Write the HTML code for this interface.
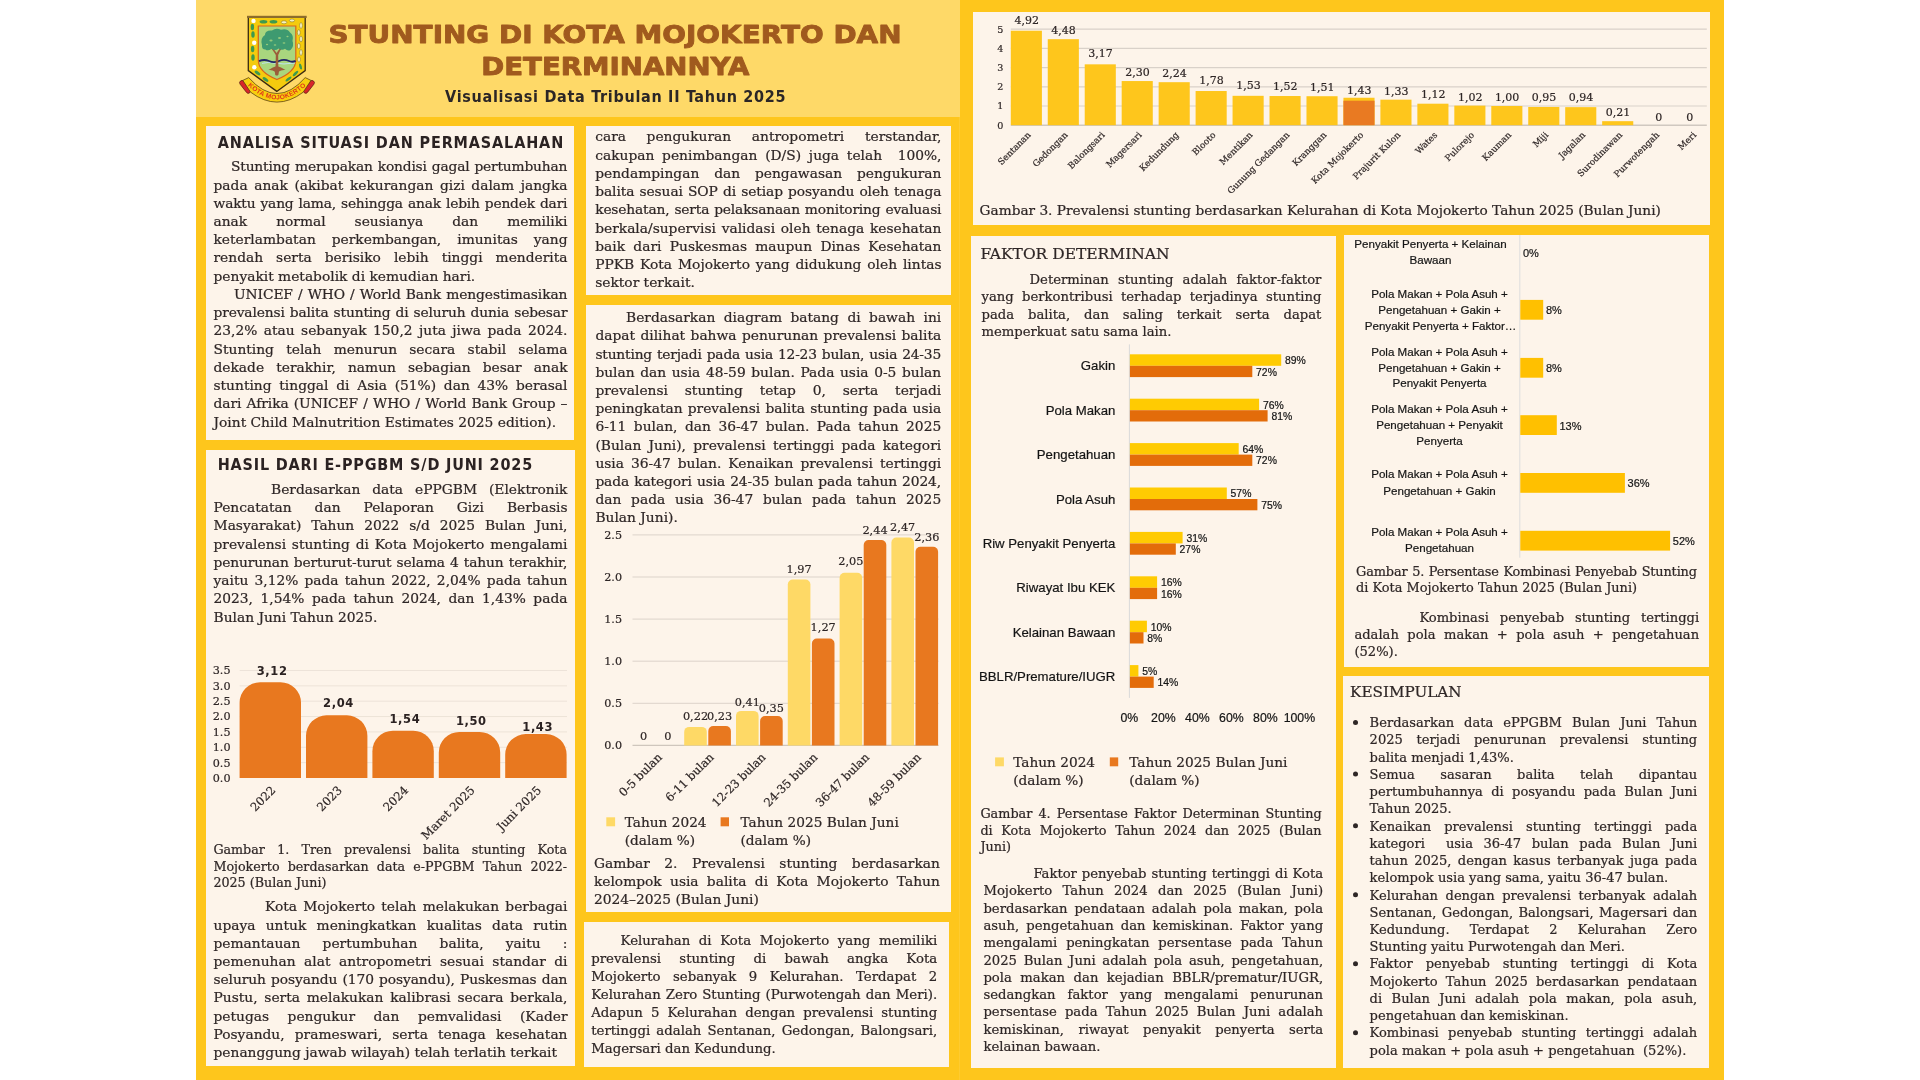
<!DOCTYPE html>
<html lang="id"><head><meta charset="utf-8"><title>Stunting di Kota Mojokerto dan Determinannya</title>
<style>
html,body{margin:0;padding:0;background:#fff;}
body{width:1920px;height:1080px;position:relative;overflow:hidden;}
.poster{position:absolute;left:196px;top:0;width:1528px;height:1080px;background:#FEC61C;}
.hdr{position:absolute;left:196px;top:0;width:764px;height:116.6px;background:#FED968;}
.p{position:absolute;background:#FDF4EA;}
.t{position:absolute;white-space:pre;margin:0;-webkit-text-stroke:0.22px currentColor;}
svg{position:absolute;left:0;top:0;}
.wrap{position:absolute;left:0;top:0;width:1920px;height:1080px;will-change:transform;}
</style></head>
<body>
<div class="poster"></div>
<div class="hdr"></div>
<div style="position:absolute;left:959px;top:117px;width:1px;height:963px;background:#FECB30;"></div>
<div class="p" style="left:206px;top:126px;width:368px;height:314px"></div><div class="p" style="left:206px;top:450px;width:369px;height:616px"></div><div class="p" style="left:586px;top:126px;width:365px;height:169px"></div><div class="p" style="left:586px;top:305px;width:365px;height:607px"></div><div class="p" style="left:584px;top:922px;width:365px;height:145px"></div><div class="p" style="left:973px;top:12px;width:737px;height:213px"></div><div class="p" style="left:971px;top:236px;width:365px;height:832px"></div><div class="p" style="left:1344px;top:235px;width:365px;height:432px"></div><div class="p" style="left:1343px;top:676px;width:366px;height:392px"></div>
<div class="wrap">
<svg width="1920" height="1080" viewBox="0 0 1920 1080">

<g id="logo">
 <path d="M248.3,17.2 L305.2,17.2 L305.2,70.6 L276.8,91.4 L248.3,70.6 Z" fill="#F4CB0E" stroke="#3B2A12" stroke-width="1.3"/>
 <rect x="247" y="15.8" width="59.7" height="2.2" fill="#8C6C2C"/>
 <path d="M258.3,26 L295.8,26 L295.8,60 Q295.8,72 276.9,79.5 Q258.3,72 258.3,60 Z" fill="#A9D67E" stroke="#D8641C" stroke-width="1.2"/>
 <path d="M262,63.4 Q268,61.6 275,63.2 Q283,64.8 295,63" fill="none" stroke="#BFE3F0" stroke-width="1"/>
 <path d="M259,61.2 Q264,58.8 269,61 Q274,63.2 279,61 Q284,58.8 289,61 Q292.5,62.5 295.6,60.8" fill="none" stroke="#1F2468" stroke-width="1.9"/>
 <g fill="#9C5C3A">
  <path d="M275.4,75 L275.8,55 Q273.5,51 270.5,47.5 L271.6,46.8 Q274.5,50 276.6,53 Q278.5,50 281.5,46.8 L282.4,47.6 Q279.6,51 278.2,55 L278.4,75 Z"/>
  <path d="M268.5,70 Q273,67.2 276.8,66 Q281,67.2 285.5,70 Q281,69.6 279,71.5 L277.8,75.5 L275.8,75.5 L274.6,71.5 Q272.5,69.6 268.5,70 Z"/>
 </g>
 <g fill="#3E9A70">
  <path d="M262,45 Q260,38 265,35 Q265,30 272,30.5 Q276,27.5 281,29.8 Q287,28 290,32.5 Q294,35 292.5,41 Q294.5,46 290.5,50 Q287.5,51.5 285,48.8 Q282,51 278.5,48.5 Q275,51.5 271.5,48.8 Q268,51.5 265.5,49.5 Q261.5,49.5 262,45 Z"/>
 </g>
 <g fill="#A9D67E" opacity="0.8">
  <ellipse cx="271" cy="40.5" rx="1.6" ry="0.9"/>
  <ellipse cx="279.5" cy="38" rx="1.5" ry="0.9"/>
  <ellipse cx="284" cy="43" rx="1.4" ry="0.8"/>
  <ellipse cx="275" cy="45" rx="1.3" ry="0.8"/>
  <ellipse cx="267" cy="44.5" rx="1.2" ry="0.8"/>
  <ellipse cx="287.5" cy="36.5" rx="1.1" ry="0.7"/>
 </g>
 <g fill="#3E9A4E">
  <ellipse cx="252.4" cy="27" rx="1.7" ry="3.2"/>
  <ellipse cx="253" cy="34.5" rx="1.7" ry="3.2"/>
  <ellipse cx="252.6" cy="49" rx="1.7" ry="3.2"/>
  <ellipse cx="253" cy="57.5" rx="1.7" ry="3.2"/>
  <ellipse cx="263.5" cy="21.8" rx="3.9" ry="1.8"/>
  <ellipse cx="273.5" cy="21.8" rx="3.9" ry="1.8"/>
  <ellipse cx="257.5" cy="73" rx="3.3" ry="1.5" transform="rotate(35 257.5 73)"/>
  <ellipse cx="265.5" cy="79.5" rx="3.3" ry="1.5" transform="rotate(35 265.5 79.5)"/>
  <ellipse cx="288.5" cy="79" rx="3.6" ry="1.3" transform="rotate(-38 288.5 79)"/>
  <ellipse cx="295.5" cy="73.5" rx="3.6" ry="1.3" transform="rotate(-45 295.5 73.5)"/>
  <ellipse cx="300.5" cy="66.5" rx="1.3" ry="3" transform="rotate(-15 300.5 66.5)"/>
 </g>
 <g fill="#FFFFFF">
  <circle cx="253.5" cy="20.9" r="2.2"/>
  <circle cx="254.2" cy="42.7" r="2.2"/>
  <circle cx="254.3" cy="67.2" r="2.2"/>
 </g>
 <g fill="#F6F2C0" stroke="#6E5E18" stroke-width="0.45">
  <ellipse cx="284" cy="22.3" rx="2.8" ry="1.5"/>
  <ellipse cx="292" cy="20.5" rx="2.6" ry="1.4"/>
  <ellipse cx="301" cy="25.5" rx="1.4" ry="2.9"/>
  <ellipse cx="298.8" cy="32.5" rx="1.4" ry="2.8"/>
  <ellipse cx="301" cy="39" rx="1.4" ry="2.9"/>
  <ellipse cx="298.8" cy="46" rx="1.4" ry="2.8"/>
  <ellipse cx="301" cy="52.5" rx="1.4" ry="2.9"/>
  <ellipse cx="299" cy="59.5" rx="1.4" ry="2.6"/>
 </g>
 <rect x="237.6" y="84.6" width="15" height="4.6" rx="2.3" fill="#D8262A" stroke="#4A1A10" stroke-width="0.6" transform="rotate(52 245.1 86.9)"/>
 <rect x="301.4" y="84.6" width="15" height="4.6" rx="2.3" fill="#D8262A" stroke="#4A1A10" stroke-width="0.6" transform="rotate(-52 308.9 86.9)"/>
 <path d="M242.8,80.4 L248.7,77.6 Q277,109.5 305.2,77.6 L311,80.4 L303.2,92.2 Q277,112 250.6,92.2 Z" fill="#F7CF0E" stroke="#4A3010" stroke-width="0.7"/>
 <path id="ribarc" d="M249.2,86.9 Q277,112 304.8,86.9" fill="none"/>
 <text font-family="'Liberation Sans', Arial, sans-serif" font-size="6.6" font-weight="bold" fill="#E0381A" letter-spacing="0.3"><textPath href="#ribarc" startOffset="50%" text-anchor="middle">KOTA MOJOKERTO</textPath></text>
</g>

<text x="615" y="42.6" font-family="'DejaVu Sans', sans-serif" font-size="25.6" font-weight="bold" fill="#A05A1E" stroke="#A05A1E" stroke-width="0.9" stroke-linejoin="round" text-anchor="middle" textLength="573" lengthAdjust="spacingAndGlyphs">STUNTING DI KOTA MOJOKERTO DAN</text><text x="615.3" y="75.4" font-family="'DejaVu Sans', sans-serif" font-size="25.6" font-weight="bold" fill="#A05A1E" stroke="#A05A1E" stroke-width="0.9" stroke-linejoin="round" text-anchor="middle" textLength="268" lengthAdjust="spacingAndGlyphs">DETERMINANNYA</text><line x1="239.70" y1="762.64" x2="567.00" y2="762.64" stroke="#EDE3D8" stroke-width="1"/><line x1="239.70" y1="747.28" x2="567.00" y2="747.28" stroke="#EDE3D8" stroke-width="1"/><line x1="239.70" y1="731.92" x2="567.00" y2="731.92" stroke="#EDE3D8" stroke-width="1"/><line x1="239.70" y1="716.56" x2="567.00" y2="716.56" stroke="#EDE3D8" stroke-width="1"/><line x1="239.70" y1="701.20" x2="567.00" y2="701.20" stroke="#EDE3D8" stroke-width="1"/><line x1="239.70" y1="685.84" x2="567.00" y2="685.84" stroke="#EDE3D8" stroke-width="1"/><line x1="239.70" y1="670.48" x2="567.00" y2="670.48" stroke="#EDE3D8" stroke-width="1"/><text x="230.50" y="781.90" font-family="'DejaVu Serif', serif" font-size="11.2" font-weight="normal" fill="#2E2626" text-anchor="end" stroke="#2E2626" stroke-width="0.2">0.0</text><text x="230.50" y="766.54" font-family="'DejaVu Serif', serif" font-size="11.2" font-weight="normal" fill="#2E2626" text-anchor="end" stroke="#2E2626" stroke-width="0.2">0.5</text><text x="230.50" y="751.18" font-family="'DejaVu Serif', serif" font-size="11.2" font-weight="normal" fill="#2E2626" text-anchor="end" stroke="#2E2626" stroke-width="0.2">1.0</text><text x="230.50" y="735.82" font-family="'DejaVu Serif', serif" font-size="11.2" font-weight="normal" fill="#2E2626" text-anchor="end" stroke="#2E2626" stroke-width="0.2">1.5</text><text x="230.50" y="720.46" font-family="'DejaVu Serif', serif" font-size="11.2" font-weight="normal" fill="#2E2626" text-anchor="end" stroke="#2E2626" stroke-width="0.2">2.0</text><text x="230.50" y="705.10" font-family="'DejaVu Serif', serif" font-size="11.2" font-weight="normal" fill="#2E2626" text-anchor="end" stroke="#2E2626" stroke-width="0.2">2.5</text><text x="230.50" y="689.74" font-family="'DejaVu Serif', serif" font-size="11.2" font-weight="normal" fill="#2E2626" text-anchor="end" stroke="#2E2626" stroke-width="0.2">3.0</text><text x="230.50" y="674.38" font-family="'DejaVu Serif', serif" font-size="11.2" font-weight="normal" fill="#2E2626" text-anchor="end" stroke="#2E2626" stroke-width="0.2">3.5</text><path d="M239.60,778.00 L239.60,702.65 A20.50,20.50 0 0 1 260.10,682.15 L280.50,682.15 A20.50,20.50 0 0 1 301.00,702.65 L301.00,778.00 Z" fill="#E8781F"/><text x="272.10" y="674.90" font-family="'DejaVu Sans Condensed', 'DejaVu Sans', sans-serif" font-size="12.8" font-weight="bold" fill="#2B2222" text-anchor="middle" letter-spacing="0.6">3,12</text><text x="276.30" y="791.00" font-family="'DejaVu Serif', serif" font-size="11.7" font-weight="normal" fill="#2E2626" text-anchor="end" transform="rotate(-45 276.30 791.00)" stroke="#2E2626" stroke-width="0.2">2022</text><path d="M306.00,778.00 L306.00,735.83 A20.50,20.50 0 0 1 326.50,715.33 L346.90,715.33 A20.50,20.50 0 0 1 367.40,735.83 L367.40,778.00 Z" fill="#E8781F"/><text x="338.50" y="706.90" font-family="'DejaVu Sans Condensed', 'DejaVu Sans', sans-serif" font-size="12.8" font-weight="bold" fill="#2B2222" text-anchor="middle" letter-spacing="0.6">2,04</text><text x="342.70" y="791.00" font-family="'DejaVu Serif', serif" font-size="11.7" font-weight="normal" fill="#2E2626" text-anchor="end" transform="rotate(-45 342.70 791.00)" stroke="#2E2626" stroke-width="0.2">2023</text><path d="M372.40,778.00 L372.40,751.19 A20.50,20.50 0 0 1 392.90,730.69 L413.30,730.69 A20.50,20.50 0 0 1 433.80,751.19 L433.80,778.00 Z" fill="#E8781F"/><text x="404.90" y="722.70" font-family="'DejaVu Sans Condensed', 'DejaVu Sans', sans-serif" font-size="12.8" font-weight="bold" fill="#2B2222" text-anchor="middle" letter-spacing="0.6">1,54</text><text x="409.10" y="791.00" font-family="'DejaVu Serif', serif" font-size="11.7" font-weight="normal" fill="#2E2626" text-anchor="end" transform="rotate(-45 409.10 791.00)" stroke="#2E2626" stroke-width="0.2">2024</text><path d="M438.80,778.00 L438.80,752.42 A20.50,20.50 0 0 1 459.30,731.92 L479.70,731.92 A20.50,20.50 0 0 1 500.20,752.42 L500.20,778.00 Z" fill="#E8781F"/><text x="471.30" y="724.50" font-family="'DejaVu Sans Condensed', 'DejaVu Sans', sans-serif" font-size="12.8" font-weight="bold" fill="#2B2222" text-anchor="middle" letter-spacing="0.6">1,50</text><text x="475.50" y="791.00" font-family="'DejaVu Serif', serif" font-size="11.7" font-weight="normal" fill="#2E2626" text-anchor="end" transform="rotate(-45 475.50 791.00)" stroke="#2E2626" stroke-width="0.2">Maret 2025</text><path d="M505.20,778.00 L505.20,754.57 A20.50,20.50 0 0 1 525.70,734.07 L546.10,734.07 A20.50,20.50 0 0 1 566.60,754.57 L566.60,778.00 Z" fill="#E8781F"/><text x="537.70" y="730.70" font-family="'DejaVu Sans Condensed', 'DejaVu Sans', sans-serif" font-size="12.8" font-weight="bold" fill="#2B2222" text-anchor="middle" letter-spacing="0.6">1,43</text><text x="541.90" y="791.00" font-family="'DejaVu Serif', serif" font-size="11.7" font-weight="normal" fill="#2E2626" text-anchor="end" transform="rotate(-45 541.90 791.00)" stroke="#2E2626" stroke-width="0.2">Juni 2025</text><line x1="632.50" y1="703.30" x2="938.50" y2="703.30" stroke="#DCD3CA" stroke-width="1"/><line x1="632.50" y1="661.20" x2="938.50" y2="661.20" stroke="#DCD3CA" stroke-width="1"/><line x1="632.50" y1="619.10" x2="938.50" y2="619.10" stroke="#DCD3CA" stroke-width="1"/><line x1="632.50" y1="577.00" x2="938.50" y2="577.00" stroke="#DCD3CA" stroke-width="1"/><line x1="632.50" y1="534.90" x2="938.50" y2="534.90" stroke="#DCD3CA" stroke-width="1"/><line x1="632.50" y1="745.40" x2="938.50" y2="745.40" stroke="#CFC6BD" stroke-width="1.2"/><text x="622.00" y="749.30" font-family="'DejaVu Serif', serif" font-size="11.2" font-weight="normal" fill="#2E2626" text-anchor="end" stroke="#2E2626" stroke-width="0.2">0.0</text><text x="622.00" y="707.20" font-family="'DejaVu Serif', serif" font-size="11.2" font-weight="normal" fill="#2E2626" text-anchor="end" stroke="#2E2626" stroke-width="0.2">0.5</text><text x="622.00" y="665.10" font-family="'DejaVu Serif', serif" font-size="11.2" font-weight="normal" fill="#2E2626" text-anchor="end" stroke="#2E2626" stroke-width="0.2">1.0</text><text x="622.00" y="623.00" font-family="'DejaVu Serif', serif" font-size="11.2" font-weight="normal" fill="#2E2626" text-anchor="end" stroke="#2E2626" stroke-width="0.2">1.5</text><text x="622.00" y="580.90" font-family="'DejaVu Serif', serif" font-size="11.2" font-weight="normal" fill="#2E2626" text-anchor="end" stroke="#2E2626" stroke-width="0.2">2.0</text><text x="622.00" y="538.80" font-family="'DejaVu Serif', serif" font-size="11.2" font-weight="normal" fill="#2E2626" text-anchor="end" stroke="#2E2626" stroke-width="0.2">2.5</text><text x="643.70" y="740.30" font-family="'DejaVu Serif', serif" font-size="11.3" font-weight="normal" fill="#2E2626" text-anchor="middle" stroke="#2E2626" stroke-width="0.2">0</text><text x="667.80" y="740.30" font-family="'DejaVu Serif', serif" font-size="11.3" font-weight="normal" fill="#2E2626" text-anchor="middle" stroke="#2E2626" stroke-width="0.2">0</text><text x="662.80" y="758.00" font-family="'DejaVu Serif', serif" font-size="11.6" font-weight="normal" fill="#2E2626" text-anchor="end" transform="rotate(-45 662.80 758.00)" stroke="#2E2626" stroke-width="0.2">0-5 bulan</text><path d="M684.20,745.40 L684.20,731.88 A5.00,5.00 0 0 1 689.20,726.88 L701.80,726.88 A5.00,5.00 0 0 1 706.80,731.88 L706.80,745.40 Z" fill="#FED966"/><text x="695.50" y="720.38" font-family="'DejaVu Serif', serif" font-size="11.3" font-weight="normal" fill="#2E2626" text-anchor="middle" stroke="#2E2626" stroke-width="0.2">0,22</text><path d="M708.30,745.40 L708.30,731.03 A5.00,5.00 0 0 1 713.30,726.03 L725.90,726.03 A5.00,5.00 0 0 1 730.90,731.03 L730.90,745.40 Z" fill="#E8781F"/><text x="719.60" y="720.43" font-family="'DejaVu Serif', serif" font-size="11.3" font-weight="normal" fill="#2E2626" text-anchor="middle" stroke="#2E2626" stroke-width="0.2">0,23</text><text x="714.60" y="758.00" font-family="'DejaVu Serif', serif" font-size="11.6" font-weight="normal" fill="#2E2626" text-anchor="end" transform="rotate(-45 714.60 758.00)" stroke="#2E2626" stroke-width="0.2">6-11 bulan</text><path d="M736.00,745.40 L736.00,715.88 A5.00,5.00 0 0 1 741.00,710.88 L753.60,710.88 A5.00,5.00 0 0 1 758.60,715.88 L758.60,745.40 Z" fill="#FED966"/><text x="747.30" y="706.38" font-family="'DejaVu Serif', serif" font-size="11.3" font-weight="normal" fill="#2E2626" text-anchor="middle" stroke="#2E2626" stroke-width="0.2">0,41</text><path d="M760.10,745.40 L760.10,720.93 A5.00,5.00 0 0 1 765.10,715.93 L777.70,715.93 A5.00,5.00 0 0 1 782.70,720.93 L782.70,745.40 Z" fill="#E8781F"/><text x="771.40" y="711.63" font-family="'DejaVu Serif', serif" font-size="11.3" font-weight="normal" fill="#2E2626" text-anchor="middle" stroke="#2E2626" stroke-width="0.2">0,35</text><text x="766.40" y="758.00" font-family="'DejaVu Serif', serif" font-size="11.6" font-weight="normal" fill="#2E2626" text-anchor="end" transform="rotate(-45 766.40 758.00)" stroke="#2E2626" stroke-width="0.2">12-23 bulan</text><path d="M787.80,745.40 L787.80,584.53 A5.00,5.00 0 0 1 792.80,579.53 L805.40,579.53 A5.00,5.00 0 0 1 810.40,584.53 L810.40,745.40 Z" fill="#FED966"/><text x="799.10" y="573.03" font-family="'DejaVu Serif', serif" font-size="11.3" font-weight="normal" fill="#2E2626" text-anchor="middle" stroke="#2E2626" stroke-width="0.2">1,97</text><path d="M811.90,745.40 L811.90,643.47 A5.00,5.00 0 0 1 816.90,638.47 L829.50,638.47 A5.00,5.00 0 0 1 834.50,643.47 L834.50,745.40 Z" fill="#E8781F"/><text x="823.20" y="631.27" font-family="'DejaVu Serif', serif" font-size="11.3" font-weight="normal" fill="#2E2626" text-anchor="middle" stroke="#2E2626" stroke-width="0.2">1,27</text><text x="818.20" y="758.00" font-family="'DejaVu Serif', serif" font-size="11.6" font-weight="normal" fill="#2E2626" text-anchor="end" transform="rotate(-45 818.20 758.00)" stroke="#2E2626" stroke-width="0.2">24-35 bulan</text><path d="M839.60,745.40 L839.60,577.79 A5.00,5.00 0 0 1 844.60,572.79 L857.20,572.79 A5.00,5.00 0 0 1 862.20,577.79 L862.20,745.40 Z" fill="#FED966"/><text x="850.90" y="565.39" font-family="'DejaVu Serif', serif" font-size="11.3" font-weight="normal" fill="#2E2626" text-anchor="middle" stroke="#2E2626" stroke-width="0.2">2,05</text><path d="M863.70,745.40 L863.70,544.95 A5.00,5.00 0 0 1 868.70,539.95 L881.30,539.95 A5.00,5.00 0 0 1 886.30,544.95 L886.30,745.40 Z" fill="#E8781F"/><text x="875.00" y="534.05" font-family="'DejaVu Serif', serif" font-size="11.3" font-weight="normal" fill="#2E2626" text-anchor="middle" stroke="#2E2626" stroke-width="0.2">2,44</text><text x="870.00" y="758.00" font-family="'DejaVu Serif', serif" font-size="11.6" font-weight="normal" fill="#2E2626" text-anchor="end" transform="rotate(-45 870.00 758.00)" stroke="#2E2626" stroke-width="0.2">36-47 bulan</text><path d="M891.40,745.40 L891.40,542.43 A5.00,5.00 0 0 1 896.40,537.43 L909.00,537.43 A5.00,5.00 0 0 1 914.00,542.43 L914.00,745.40 Z" fill="#FED966"/><text x="902.70" y="530.63" font-family="'DejaVu Serif', serif" font-size="11.3" font-weight="normal" fill="#2E2626" text-anchor="middle" stroke="#2E2626" stroke-width="0.2">2,47</text><path d="M915.50,745.40 L915.50,551.69 A5.00,5.00 0 0 1 920.50,546.69 L933.10,546.69 A5.00,5.00 0 0 1 938.10,551.69 L938.10,745.40 Z" fill="#E8781F"/><text x="926.80" y="540.69" font-family="'DejaVu Serif', serif" font-size="11.3" font-weight="normal" fill="#2E2626" text-anchor="middle" stroke="#2E2626" stroke-width="0.2">2,36</text><text x="921.80" y="758.00" font-family="'DejaVu Serif', serif" font-size="11.6" font-weight="normal" fill="#2E2626" text-anchor="end" transform="rotate(-45 921.80 758.00)" stroke="#2E2626" stroke-width="0.2">48-59 bulan</text><rect x="606.30" y="817.30" width="8.80" height="9.00" fill="#FED966"/><rect x="720.60" y="817.30" width="8.40" height="9.00" fill="#E8781F"/><line x1="1010.80" y1="106.00" x2="1706.80" y2="106.00" stroke="#D9D1C9" stroke-width="1.2"/><line x1="1010.80" y1="86.80" x2="1706.80" y2="86.80" stroke="#D9D1C9" stroke-width="1.2"/><line x1="1010.80" y1="67.60" x2="1706.80" y2="67.60" stroke="#D9D1C9" stroke-width="1.2"/><line x1="1010.80" y1="48.40" x2="1706.80" y2="48.40" stroke="#D9D1C9" stroke-width="1.2"/><line x1="1010.80" y1="29.20" x2="1706.80" y2="29.20" stroke="#D9D1C9" stroke-width="1.2"/><line x1="1010.80" y1="125.20" x2="1706.80" y2="125.20" stroke="#D0C8C0" stroke-width="1.4"/><text x="1000.40" y="128.60" font-family="'DejaVu Serif', serif" font-size="9.6" font-weight="normal" fill="#2E2626" text-anchor="middle" stroke="#2E2626" stroke-width="0.2">0</text><text x="1000.40" y="109.40" font-family="'DejaVu Serif', serif" font-size="9.6" font-weight="normal" fill="#2E2626" text-anchor="middle" stroke="#2E2626" stroke-width="0.2">1</text><text x="1000.40" y="90.20" font-family="'DejaVu Serif', serif" font-size="9.6" font-weight="normal" fill="#2E2626" text-anchor="middle" stroke="#2E2626" stroke-width="0.2">2</text><text x="1000.40" y="71.00" font-family="'DejaVu Serif', serif" font-size="9.6" font-weight="normal" fill="#2E2626" text-anchor="middle" stroke="#2E2626" stroke-width="0.2">3</text><text x="1000.40" y="51.80" font-family="'DejaVu Serif', serif" font-size="9.6" font-weight="normal" fill="#2E2626" text-anchor="middle" stroke="#2E2626" stroke-width="0.2">4</text><text x="1000.40" y="32.60" font-family="'DejaVu Serif', serif" font-size="9.6" font-weight="normal" fill="#2E2626" text-anchor="middle" stroke="#2E2626" stroke-width="0.2">5</text><rect x="1010.80" y="30.74" width="31.10" height="94.46" fill="#FEC61C"/><text x="1026.65" y="23.60" font-family="'DejaVu Serif', serif" font-size="11" font-weight="normal" fill="#2E2626" text-anchor="middle" stroke="#2E2626" stroke-width="0.2">4,92</text><text x="1031.35" y="135.50" font-family="'DejaVu Serif', serif" font-size="8.8" font-weight="normal" fill="#2E2626" text-anchor="end" transform="rotate(-45 1031.35 135.50)" stroke="#2E2626" stroke-width="0.2">Sentanan</text><rect x="1047.76" y="39.18" width="31.10" height="86.02" fill="#FEC61C"/><text x="1063.61" y="33.90" font-family="'DejaVu Serif', serif" font-size="11" font-weight="normal" fill="#2E2626" text-anchor="middle" stroke="#2E2626" stroke-width="0.2">4,48</text><text x="1068.31" y="135.50" font-family="'DejaVu Serif', serif" font-size="8.8" font-weight="normal" fill="#2E2626" text-anchor="end" transform="rotate(-45 1068.31 135.50)" stroke="#2E2626" stroke-width="0.2">Gedongan</text><rect x="1084.72" y="64.34" width="31.10" height="60.86" fill="#FEC61C"/><text x="1100.57" y="57.30" font-family="'DejaVu Serif', serif" font-size="11" font-weight="normal" fill="#2E2626" text-anchor="middle" stroke="#2E2626" stroke-width="0.2">3,17</text><text x="1105.27" y="135.50" font-family="'DejaVu Serif', serif" font-size="8.8" font-weight="normal" fill="#2E2626" text-anchor="end" transform="rotate(-45 1105.27 135.50)" stroke="#2E2626" stroke-width="0.2">Balongsari</text><rect x="1121.68" y="81.04" width="31.10" height="44.16" fill="#FEC61C"/><text x="1137.53" y="75.60" font-family="'DejaVu Serif', serif" font-size="11" font-weight="normal" fill="#2E2626" text-anchor="middle" stroke="#2E2626" stroke-width="0.2">2,30</text><text x="1142.23" y="135.50" font-family="'DejaVu Serif', serif" font-size="8.8" font-weight="normal" fill="#2E2626" text-anchor="end" transform="rotate(-45 1142.23 135.50)" stroke="#2E2626" stroke-width="0.2">Magersari</text><rect x="1158.64" y="82.19" width="31.10" height="43.01" fill="#FEC61C"/><text x="1174.49" y="76.75" font-family="'DejaVu Serif', serif" font-size="11" font-weight="normal" fill="#2E2626" text-anchor="middle" stroke="#2E2626" stroke-width="0.2">2,24</text><text x="1179.19" y="135.50" font-family="'DejaVu Serif', serif" font-size="8.8" font-weight="normal" fill="#2E2626" text-anchor="end" transform="rotate(-45 1179.19 135.50)" stroke="#2E2626" stroke-width="0.2">Kedundung</text><rect x="1195.60" y="91.02" width="31.10" height="34.18" fill="#FEC61C"/><text x="1211.45" y="83.90" font-family="'DejaVu Serif', serif" font-size="11" font-weight="normal" fill="#2E2626" text-anchor="middle" stroke="#2E2626" stroke-width="0.2">1,78</text><text x="1216.15" y="135.50" font-family="'DejaVu Serif', serif" font-size="8.8" font-weight="normal" fill="#2E2626" text-anchor="end" transform="rotate(-45 1216.15 135.50)" stroke="#2E2626" stroke-width="0.2">Blooto</text><rect x="1232.56" y="95.82" width="31.10" height="29.38" fill="#FEC61C"/><text x="1248.41" y="88.60" font-family="'DejaVu Serif', serif" font-size="11" font-weight="normal" fill="#2E2626" text-anchor="middle" stroke="#2E2626" stroke-width="0.2">1,53</text><text x="1253.11" y="135.50" font-family="'DejaVu Serif', serif" font-size="8.8" font-weight="normal" fill="#2E2626" text-anchor="end" transform="rotate(-45 1253.11 135.50)" stroke="#2E2626" stroke-width="0.2">Mentikan</text><rect x="1269.52" y="96.02" width="31.10" height="29.18" fill="#FEC61C"/><text x="1285.37" y="89.80" font-family="'DejaVu Serif', serif" font-size="11" font-weight="normal" fill="#2E2626" text-anchor="middle" stroke="#2E2626" stroke-width="0.2">1,52</text><text x="1290.07" y="135.50" font-family="'DejaVu Serif', serif" font-size="8.8" font-weight="normal" fill="#2E2626" text-anchor="end" transform="rotate(-45 1290.07 135.50)" stroke="#2E2626" stroke-width="0.2">Gunung Gedangan</text><rect x="1306.48" y="96.21" width="31.10" height="28.99" fill="#FEC61C"/><text x="1322.33" y="90.75" font-family="'DejaVu Serif', serif" font-size="11" font-weight="normal" fill="#2E2626" text-anchor="middle" stroke="#2E2626" stroke-width="0.2">1,51</text><text x="1327.03" y="135.50" font-family="'DejaVu Serif', serif" font-size="8.8" font-weight="normal" fill="#2E2626" text-anchor="end" transform="rotate(-45 1327.03 135.50)" stroke="#2E2626" stroke-width="0.2">Kranggan</text><rect x="1343.44" y="97.74" width="31.10" height="27.46" fill="#FEC61C"/><rect x="1343.44" y="100.70" width="31.10" height="24.50" fill="#E97A22"/><text x="1359.29" y="93.60" font-family="'DejaVu Serif', serif" font-size="11" font-weight="normal" fill="#2E2626" text-anchor="middle" stroke="#2E2626" stroke-width="0.2">1,43</text><text x="1363.99" y="135.50" font-family="'DejaVu Serif', serif" font-size="8.8" font-weight="normal" fill="#2E2626" text-anchor="end" transform="rotate(-45 1363.99 135.50)" stroke="#2E2626" stroke-width="0.2">Kota Mojokerto</text><rect x="1380.40" y="99.66" width="31.10" height="25.54" fill="#FEC61C"/><text x="1396.25" y="95.10" font-family="'DejaVu Serif', serif" font-size="11" font-weight="normal" fill="#2E2626" text-anchor="middle" stroke="#2E2626" stroke-width="0.2">1,33</text><text x="1400.95" y="135.50" font-family="'DejaVu Serif', serif" font-size="8.8" font-weight="normal" fill="#2E2626" text-anchor="end" transform="rotate(-45 1400.95 135.50)" stroke="#2E2626" stroke-width="0.2">Prajurit Kulon</text><rect x="1417.36" y="103.70" width="31.10" height="21.50" fill="#FEC61C"/><text x="1433.21" y="97.70" font-family="'DejaVu Serif', serif" font-size="11" font-weight="normal" fill="#2E2626" text-anchor="middle" stroke="#2E2626" stroke-width="0.2">1,12</text><text x="1437.91" y="135.50" font-family="'DejaVu Serif', serif" font-size="8.8" font-weight="normal" fill="#2E2626" text-anchor="end" transform="rotate(-45 1437.91 135.50)" stroke="#2E2626" stroke-width="0.2">Wates</text><rect x="1454.32" y="105.62" width="31.10" height="19.58" fill="#FEC61C"/><text x="1470.17" y="100.50" font-family="'DejaVu Serif', serif" font-size="11" font-weight="normal" fill="#2E2626" text-anchor="middle" stroke="#2E2626" stroke-width="0.2">1,02</text><text x="1474.87" y="135.50" font-family="'DejaVu Serif', serif" font-size="8.8" font-weight="normal" fill="#2E2626" text-anchor="end" transform="rotate(-45 1474.87 135.50)" stroke="#2E2626" stroke-width="0.2">Pulorejo</text><rect x="1491.28" y="106.00" width="31.10" height="19.20" fill="#FEC61C"/><text x="1507.13" y="101.40" font-family="'DejaVu Serif', serif" font-size="11" font-weight="normal" fill="#2E2626" text-anchor="middle" stroke="#2E2626" stroke-width="0.2">1,00</text><text x="1511.83" y="135.50" font-family="'DejaVu Serif', serif" font-size="8.8" font-weight="normal" fill="#2E2626" text-anchor="end" transform="rotate(-45 1511.83 135.50)" stroke="#2E2626" stroke-width="0.2">Kauman</text><rect x="1528.24" y="106.96" width="31.10" height="18.24" fill="#FEC61C"/><text x="1544.09" y="100.80" font-family="'DejaVu Serif', serif" font-size="11" font-weight="normal" fill="#2E2626" text-anchor="middle" stroke="#2E2626" stroke-width="0.2">0,95</text><text x="1548.79" y="135.50" font-family="'DejaVu Serif', serif" font-size="8.8" font-weight="normal" fill="#2E2626" text-anchor="end" transform="rotate(-45 1548.79 135.50)" stroke="#2E2626" stroke-width="0.2">Miji</text><rect x="1565.20" y="107.15" width="31.10" height="18.05" fill="#FEC61C"/><text x="1581.05" y="101.00" font-family="'DejaVu Serif', serif" font-size="11" font-weight="normal" fill="#2E2626" text-anchor="middle" stroke="#2E2626" stroke-width="0.2">0,94</text><text x="1585.75" y="135.50" font-family="'DejaVu Serif', serif" font-size="8.8" font-weight="normal" fill="#2E2626" text-anchor="end" transform="rotate(-45 1585.75 135.50)" stroke="#2E2626" stroke-width="0.2">Jagalan</text><rect x="1602.16" y="121.17" width="31.10" height="4.03" fill="#FEC61C"/><text x="1618.01" y="116.10" font-family="'DejaVu Serif', serif" font-size="11" font-weight="normal" fill="#2E2626" text-anchor="middle" stroke="#2E2626" stroke-width="0.2">0,21</text><text x="1622.71" y="135.50" font-family="'DejaVu Serif', serif" font-size="8.8" font-weight="normal" fill="#2E2626" text-anchor="end" transform="rotate(-45 1622.71 135.50)" stroke="#2E2626" stroke-width="0.2">Surodinawan</text><text x="1658.70" y="120.90" font-family="'DejaVu Serif', serif" font-size="11" font-weight="normal" fill="#2E2626" text-anchor="middle" stroke="#2E2626" stroke-width="0.2">0</text><text x="1659.67" y="135.50" font-family="'DejaVu Serif', serif" font-size="8.8" font-weight="normal" fill="#2E2626" text-anchor="end" transform="rotate(-45 1659.67 135.50)" stroke="#2E2626" stroke-width="0.2">Purwotengah</text><text x="1689.80" y="120.90" font-family="'DejaVu Serif', serif" font-size="11" font-weight="normal" fill="#2E2626" text-anchor="middle" stroke="#2E2626" stroke-width="0.2">0</text><text x="1696.63" y="135.50" font-family="'DejaVu Serif', serif" font-size="8.8" font-weight="normal" fill="#2E2626" text-anchor="end" transform="rotate(-45 1696.63 135.50)" stroke="#2E2626" stroke-width="0.2">Meri</text><line x1="1129.40" y1="344.40" x2="1129.40" y2="697.90" stroke="#D9D9D9" stroke-width="1"/><rect x="1129.90" y="354.30" width="151.30" height="11.50" fill="#FFCB02"/><rect x="1129.90" y="365.80" width="122.40" height="11.30" fill="#E36C0A"/><text x="1115.30" y="370.40" font-family="'Liberation Sans', Arial, sans-serif" font-size="13.2" font-weight="normal" fill="#141414" text-anchor="end" stroke="#141414" stroke-width="0.2">Gakin</text><text x="1285.00" y="364.20" font-family="'Liberation Sans', Arial, sans-serif" font-size="10.4" font-weight="normal" fill="#141414" text-anchor="start" stroke="#141414" stroke-width="0.2">89%</text><text x="1256.10" y="375.60" font-family="'Liberation Sans', Arial, sans-serif" font-size="10.4" font-weight="normal" fill="#141414" text-anchor="start" stroke="#141414" stroke-width="0.2">72%</text><rect x="1129.90" y="398.70" width="129.20" height="11.50" fill="#FFCB02"/><rect x="1129.90" y="410.20" width="137.70" height="11.30" fill="#E36C0A"/><text x="1115.30" y="414.80" font-family="'Liberation Sans', Arial, sans-serif" font-size="13.2" font-weight="normal" fill="#141414" text-anchor="end" stroke="#141414" stroke-width="0.2">Pola Makan</text><text x="1262.90" y="408.60" font-family="'Liberation Sans', Arial, sans-serif" font-size="10.4" font-weight="normal" fill="#141414" text-anchor="start" stroke="#141414" stroke-width="0.2">76%</text><text x="1271.40" y="420.00" font-family="'Liberation Sans', Arial, sans-serif" font-size="10.4" font-weight="normal" fill="#141414" text-anchor="start" stroke="#141414" stroke-width="0.2">81%</text><rect x="1129.90" y="443.10" width="108.80" height="11.50" fill="#FFCB02"/><rect x="1129.90" y="454.60" width="122.40" height="11.30" fill="#E36C0A"/><text x="1115.30" y="459.20" font-family="'Liberation Sans', Arial, sans-serif" font-size="13.2" font-weight="normal" fill="#141414" text-anchor="end" stroke="#141414" stroke-width="0.2">Pengetahuan</text><text x="1242.50" y="453.00" font-family="'Liberation Sans', Arial, sans-serif" font-size="10.4" font-weight="normal" fill="#141414" text-anchor="start" stroke="#141414" stroke-width="0.2">64%</text><text x="1256.10" y="464.40" font-family="'Liberation Sans', Arial, sans-serif" font-size="10.4" font-weight="normal" fill="#141414" text-anchor="start" stroke="#141414" stroke-width="0.2">72%</text><rect x="1129.90" y="487.50" width="96.90" height="11.50" fill="#FFCB02"/><rect x="1129.90" y="499.00" width="127.50" height="11.30" fill="#E36C0A"/><text x="1115.30" y="503.60" font-family="'Liberation Sans', Arial, sans-serif" font-size="13.2" font-weight="normal" fill="#141414" text-anchor="end" stroke="#141414" stroke-width="0.2">Pola Asuh</text><text x="1230.60" y="497.40" font-family="'Liberation Sans', Arial, sans-serif" font-size="10.4" font-weight="normal" fill="#141414" text-anchor="start" stroke="#141414" stroke-width="0.2">57%</text><text x="1261.20" y="508.80" font-family="'Liberation Sans', Arial, sans-serif" font-size="10.4" font-weight="normal" fill="#141414" text-anchor="start" stroke="#141414" stroke-width="0.2">75%</text><rect x="1129.90" y="531.90" width="52.70" height="11.50" fill="#FFCB02"/><rect x="1129.90" y="543.40" width="45.90" height="11.30" fill="#E36C0A"/><text x="1115.30" y="548.00" font-family="'Liberation Sans', Arial, sans-serif" font-size="13.2" font-weight="normal" fill="#141414" text-anchor="end" stroke="#141414" stroke-width="0.2">Riw Penyakit Penyerta</text><text x="1186.40" y="541.80" font-family="'Liberation Sans', Arial, sans-serif" font-size="10.4" font-weight="normal" fill="#141414" text-anchor="start" stroke="#141414" stroke-width="0.2">31%</text><text x="1179.60" y="553.20" font-family="'Liberation Sans', Arial, sans-serif" font-size="10.4" font-weight="normal" fill="#141414" text-anchor="start" stroke="#141414" stroke-width="0.2">27%</text><rect x="1129.90" y="576.30" width="27.20" height="11.50" fill="#FFCB02"/><rect x="1129.90" y="587.80" width="27.20" height="11.30" fill="#E36C0A"/><text x="1115.30" y="592.40" font-family="'Liberation Sans', Arial, sans-serif" font-size="13.2" font-weight="normal" fill="#141414" text-anchor="end" stroke="#141414" stroke-width="0.2">Riwayat Ibu KEK</text><text x="1160.90" y="586.20" font-family="'Liberation Sans', Arial, sans-serif" font-size="10.4" font-weight="normal" fill="#141414" text-anchor="start" stroke="#141414" stroke-width="0.2">16%</text><text x="1160.90" y="597.60" font-family="'Liberation Sans', Arial, sans-serif" font-size="10.4" font-weight="normal" fill="#141414" text-anchor="start" stroke="#141414" stroke-width="0.2">16%</text><rect x="1129.90" y="620.70" width="17.00" height="11.50" fill="#FFCB02"/><rect x="1129.90" y="632.20" width="13.60" height="11.30" fill="#E36C0A"/><text x="1115.30" y="636.80" font-family="'Liberation Sans', Arial, sans-serif" font-size="13.2" font-weight="normal" fill="#141414" text-anchor="end" stroke="#141414" stroke-width="0.2">Kelainan Bawaan</text><text x="1150.70" y="630.60" font-family="'Liberation Sans', Arial, sans-serif" font-size="10.4" font-weight="normal" fill="#141414" text-anchor="start" stroke="#141414" stroke-width="0.2">10%</text><text x="1147.30" y="642.00" font-family="'Liberation Sans', Arial, sans-serif" font-size="10.4" font-weight="normal" fill="#141414" text-anchor="start" stroke="#141414" stroke-width="0.2">8%</text><rect x="1129.90" y="665.10" width="8.50" height="11.50" fill="#FFCB02"/><rect x="1129.90" y="676.60" width="23.80" height="11.30" fill="#E36C0A"/><text x="1115.30" y="681.20" font-family="'Liberation Sans', Arial, sans-serif" font-size="13.2" font-weight="normal" fill="#141414" text-anchor="end" stroke="#141414" stroke-width="0.2">BBLR/Premature/IUGR</text><text x="1142.20" y="675.00" font-family="'Liberation Sans', Arial, sans-serif" font-size="10.4" font-weight="normal" fill="#141414" text-anchor="start" stroke="#141414" stroke-width="0.2">5%</text><text x="1157.50" y="686.40" font-family="'Liberation Sans', Arial, sans-serif" font-size="10.4" font-weight="normal" fill="#141414" text-anchor="start" stroke="#141414" stroke-width="0.2">14%</text><text x="1129.40" y="722.30" font-family="'Liberation Sans', Arial, sans-serif" font-size="12.3" font-weight="normal" fill="#141414" text-anchor="middle" stroke="#141414" stroke-width="0.2">0%</text><text x="1163.40" y="722.30" font-family="'Liberation Sans', Arial, sans-serif" font-size="12.3" font-weight="normal" fill="#141414" text-anchor="middle" stroke="#141414" stroke-width="0.2">20%</text><text x="1197.40" y="722.30" font-family="'Liberation Sans', Arial, sans-serif" font-size="12.3" font-weight="normal" fill="#141414" text-anchor="middle" stroke="#141414" stroke-width="0.2">40%</text><text x="1231.40" y="722.30" font-family="'Liberation Sans', Arial, sans-serif" font-size="12.3" font-weight="normal" fill="#141414" text-anchor="middle" stroke="#141414" stroke-width="0.2">60%</text><text x="1265.40" y="722.30" font-family="'Liberation Sans', Arial, sans-serif" font-size="12.3" font-weight="normal" fill="#141414" text-anchor="middle" stroke="#141414" stroke-width="0.2">80%</text><text x="1299.40" y="722.30" font-family="'Liberation Sans', Arial, sans-serif" font-size="12.3" font-weight="normal" fill="#141414" text-anchor="middle" stroke="#141414" stroke-width="0.2">100%</text><rect x="995.10" y="757.40" width="8.80" height="8.90" fill="#FED966"/><rect x="1109.80" y="757.40" width="8.40" height="8.90" fill="#E8781F"/><line x1="1519.80" y1="235.00" x2="1519.80" y2="557.70" stroke="#DDDDDD" stroke-width="1"/><text x="1430.50" y="248.10" font-family="'Liberation Sans', Arial, sans-serif" font-size="11.6" font-weight="normal" fill="#141414" text-anchor="middle" stroke="#141414" stroke-width="0.2">Penyakit Penyerta + Kelainan</text><text x="1430.50" y="264.00" font-family="'Liberation Sans', Arial, sans-serif" font-size="11.6" font-weight="normal" fill="#141414" text-anchor="middle" stroke="#141414" stroke-width="0.2">Bawaan</text><text x="1523.00" y="257.10" font-family="'Liberation Sans', Arial, sans-serif" font-size="11" font-weight="normal" fill="#141414" text-anchor="start" stroke="#141414" stroke-width="0.2">0%</text><text x="1439.50" y="297.80" font-family="'Liberation Sans', Arial, sans-serif" font-size="11.6" font-weight="normal" fill="#141414" text-anchor="middle" stroke="#141414" stroke-width="0.2">Pola Makan + Pola Asuh +</text><text x="1439.50" y="313.80" font-family="'Liberation Sans', Arial, sans-serif" font-size="11.6" font-weight="normal" fill="#141414" text-anchor="middle" stroke="#141414" stroke-width="0.2">Pengetahuan + Gakin +</text><text x="1440.60" y="329.70" font-family="'Liberation Sans', Arial, sans-serif" font-size="11.6" font-weight="normal" fill="#141414" text-anchor="middle" stroke="#141414" stroke-width="0.2">Penyakit Penyerta + Faktor…</text><rect x="1520.30" y="299.90" width="22.90" height="19.80" fill="#FFC000"/><text x="1545.90" y="314.20" font-family="'Liberation Sans', Arial, sans-serif" font-size="11" font-weight="normal" fill="#141414" text-anchor="start" stroke="#141414" stroke-width="0.2">8%</text><text x="1439.50" y="355.60" font-family="'Liberation Sans', Arial, sans-serif" font-size="11.6" font-weight="normal" fill="#141414" text-anchor="middle" stroke="#141414" stroke-width="0.2">Pola Makan + Pola Asuh +</text><text x="1439.50" y="371.50" font-family="'Liberation Sans', Arial, sans-serif" font-size="11.6" font-weight="normal" fill="#141414" text-anchor="middle" stroke="#141414" stroke-width="0.2">Pengetahuan + Gakin +</text><text x="1439.50" y="387.40" font-family="'Liberation Sans', Arial, sans-serif" font-size="11.6" font-weight="normal" fill="#141414" text-anchor="middle" stroke="#141414" stroke-width="0.2">Penyakit Penyerta</text><rect x="1520.30" y="357.90" width="22.90" height="19.80" fill="#FFC000"/><text x="1545.90" y="372.20" font-family="'Liberation Sans', Arial, sans-serif" font-size="11" font-weight="normal" fill="#141414" text-anchor="start" stroke="#141414" stroke-width="0.2">8%</text><text x="1439.50" y="413.30" font-family="'Liberation Sans', Arial, sans-serif" font-size="11.6" font-weight="normal" fill="#141414" text-anchor="middle" stroke="#141414" stroke-width="0.2">Pola Makan + Pola Asuh +</text><text x="1439.50" y="429.30" font-family="'Liberation Sans', Arial, sans-serif" font-size="11.6" font-weight="normal" fill="#141414" text-anchor="middle" stroke="#141414" stroke-width="0.2">Pengetahuan + Penyakit</text><text x="1439.50" y="445.00" font-family="'Liberation Sans', Arial, sans-serif" font-size="11.6" font-weight="normal" fill="#141414" text-anchor="middle" stroke="#141414" stroke-width="0.2">Penyerta</text><rect x="1520.30" y="415.20" width="36.50" height="19.80" fill="#FFC000"/><text x="1559.50" y="429.50" font-family="'Liberation Sans', Arial, sans-serif" font-size="11" font-weight="normal" fill="#141414" text-anchor="start" stroke="#141414" stroke-width="0.2">13%</text><text x="1439.50" y="478.10" font-family="'Liberation Sans', Arial, sans-serif" font-size="11.6" font-weight="normal" fill="#141414" text-anchor="middle" stroke="#141414" stroke-width="0.2">Pola Makan + Pola Asuh +</text><text x="1439.50" y="494.50" font-family="'Liberation Sans', Arial, sans-serif" font-size="11.6" font-weight="normal" fill="#141414" text-anchor="middle" stroke="#141414" stroke-width="0.2">Pengetahuan + Gakin</text><rect x="1520.30" y="473.00" width="104.60" height="19.80" fill="#FFC000"/><text x="1627.60" y="487.30" font-family="'Liberation Sans', Arial, sans-serif" font-size="11" font-weight="normal" fill="#141414" text-anchor="start" stroke="#141414" stroke-width="0.2">36%</text><text x="1439.50" y="535.90" font-family="'Liberation Sans', Arial, sans-serif" font-size="11.6" font-weight="normal" fill="#141414" text-anchor="middle" stroke="#141414" stroke-width="0.2">Pola Makan + Pola Asuh +</text><text x="1439.50" y="551.90" font-family="'Liberation Sans', Arial, sans-serif" font-size="11.6" font-weight="normal" fill="#141414" text-anchor="middle" stroke="#141414" stroke-width="0.2">Pengetahuan</text><rect x="1520.30" y="530.80" width="149.80" height="19.80" fill="#FFC000"/><text x="1672.80" y="545.10" font-family="'Liberation Sans', Arial, sans-serif" font-size="11" font-weight="normal" fill="#141414" text-anchor="start" stroke="#141414" stroke-width="0.2">52%</text><circle cx="1355.5" cy="722.40" r="2.5" fill="#2E2626"/><circle cx="1355.5" cy="774.12" r="2.5" fill="#2E2626"/><circle cx="1355.5" cy="825.84" r="2.5" fill="#2E2626"/><circle cx="1355.5" cy="894.80" r="2.5" fill="#2E2626"/><circle cx="1355.5" cy="963.76" r="2.5" fill="#2E2626"/><circle cx="1355.5" cy="1032.72" r="2.5" fill="#2E2626"/>
</svg>
<div class="t" style="left:445.10px;top:89.11px;font-family:'DejaVu Sans Condensed', 'DejaVu Sans', sans-serif;font-size:16px;font-weight:bold;letter-spacing:0.7px;line-height:16px;color:#2B2626;-webkit-text-stroke:0;">Visualisasi Data Tribulan II Tahun 2025</div><div class="t" style="left:217.80px;top:134.91px;font-family:'DejaVu Sans Condensed', 'DejaVu Sans', sans-serif;font-size:16px;font-weight:bold;letter-spacing:0.88px;line-height:16px;color:#2B2222;-webkit-text-stroke:0;">ANALISA SITUASI DAN PERMASALAHAN</div><div class="t" style="left:231.00px;top:160.28px;font-family:'DejaVu Serif', serif;font-size:13.8px;font-weight:normal;letter-spacing:-0.177px;line-height:13.8px;color:#2E2626;word-spacing:0.800px;">Stunting merupakan kondisi gagal pertumbuhan</div><div class="t" style="left:213.50px;top:178.52px;font-family:'DejaVu Serif', serif;font-size:13.8px;font-weight:normal;letter-spacing:0px;line-height:13.8px;color:#2E2626;word-spacing:2.159px;">pada anak (akibat kekurangan gizi dalam jangka</div><div class="t" style="left:213.50px;top:196.76px;font-family:'DejaVu Serif', serif;font-size:13.8px;font-weight:normal;letter-spacing:-0.175px;line-height:13.8px;color:#2E2626;word-spacing:0.800px;">waktu yang lama, sehingga anak lebih pendek dari</div><div class="t" style="left:213.50px;top:215.00px;font-family:'DejaVu Serif', serif;font-size:13.8px;font-weight:normal;letter-spacing:0px;line-height:13.8px;color:#2E2626;word-spacing:24.551px;">anak normal seusianya dan memiliki</div><div class="t" style="left:213.50px;top:233.24px;font-family:'DejaVu Serif', serif;font-size:13.8px;font-weight:normal;letter-spacing:0px;line-height:13.8px;color:#2E2626;word-spacing:11.609px;">keterlambatan perkembangan, imunitas yang</div><div class="t" style="left:213.50px;top:251.48px;font-family:'DejaVu Serif', serif;font-size:13.8px;font-weight:normal;letter-spacing:0px;line-height:13.8px;color:#2E2626;word-spacing:8.634px;">rendah serta berisiko lebih tinggi menderita</div><div class="t" style="left:213.50px;top:269.72px;font-family:'DejaVu Serif', serif;font-size:13.8px;font-weight:normal;letter-spacing:0px;line-height:13.8px;color:#2E2626;">penyakit metabolik di kemudian hari.</div><div class="t" style="left:234.00px;top:287.96px;font-family:'DejaVu Serif', serif;font-size:13.8px;font-weight:normal;letter-spacing:-0.081px;line-height:13.8px;color:#2E2626;word-spacing:0.800px;">UNICEF / WHO / World Bank mengestimasikan</div><div class="t" style="left:213.50px;top:306.20px;font-family:'DejaVu Serif', serif;font-size:13.8px;font-weight:normal;letter-spacing:-0.139px;line-height:13.8px;color:#2E2626;word-spacing:0.800px;">prevalensi balita stunting di seluruh dunia sebesar</div><div class="t" style="left:213.50px;top:324.44px;font-family:'DejaVu Serif', serif;font-size:13.8px;font-weight:normal;letter-spacing:0px;line-height:13.8px;color:#2E2626;word-spacing:2.036px;">23,2% atau sebanyak 150,2 juta jiwa pada 2024.</div><div class="t" style="left:213.50px;top:342.68px;font-family:'DejaVu Serif', serif;font-size:13.8px;font-weight:normal;letter-spacing:0px;line-height:13.8px;color:#2E2626;word-spacing:7.856px;">Stunting telah menurun secara stabil selama</div><div class="t" style="left:213.50px;top:360.92px;font-family:'DejaVu Serif', serif;font-size:13.8px;font-weight:normal;letter-spacing:0px;line-height:13.8px;color:#2E2626;word-spacing:7.722px;">dekade terakhir, namun sebagian besar anak</div><div class="t" style="left:213.50px;top:379.16px;font-family:'DejaVu Serif', serif;font-size:13.8px;font-weight:normal;letter-spacing:0px;line-height:13.8px;color:#2E2626;word-spacing:3.368px;">stunting tinggal di Asia (51%) dan 43% berasal</div><div class="t" style="left:213.50px;top:397.40px;font-family:'DejaVu Serif', serif;font-size:13.8px;font-weight:normal;letter-spacing:-0.050px;line-height:13.8px;color:#2E2626;word-spacing:0.800px;">dari Afrika (UNICEF / WHO / World Bank Group –</div><div class="t" style="left:213.50px;top:415.64px;font-family:'DejaVu Serif', serif;font-size:13.8px;font-weight:normal;letter-spacing:0px;line-height:13.8px;color:#2E2626;">Joint Child Malnutrition Estimates 2025 edition).</div><div class="t" style="left:217.70px;top:456.91px;font-family:'DejaVu Sans Condensed', 'DejaVu Sans', sans-serif;font-size:16px;font-weight:bold;letter-spacing:0.83px;line-height:16px;color:#2B2222;-webkit-text-stroke:0;">HASIL DARI E-PPGBM S/D JUNI 2025</div><div class="t" style="left:271.00px;top:482.98px;font-family:'DejaVu Serif', serif;font-size:13.8px;font-weight:normal;letter-spacing:0px;line-height:13.8px;color:#2E2626;word-spacing:7.552px;">Berdasarkan data ePPGBM (Elektronik</div><div class="t" style="left:213.50px;top:501.22px;font-family:'DejaVu Serif', serif;font-size:13.8px;font-weight:normal;letter-spacing:0px;line-height:13.8px;color:#2E2626;word-spacing:18.613px;">Pencatatan dan Pelaporan Gizi Berbasis</div><div class="t" style="left:213.50px;top:519.46px;font-family:'DejaVu Serif', serif;font-size:13.8px;font-weight:normal;letter-spacing:0px;line-height:13.8px;color:#2E2626;word-spacing:5.573px;">Masyarakat) Tahun 2022 s/d 2025 Bulan Juni,</div><div class="t" style="left:213.50px;top:537.70px;font-family:'DejaVu Serif', serif;font-size:13.8px;font-weight:normal;letter-spacing:0px;line-height:13.8px;color:#2E2626;word-spacing:1.372px;">prevalensi stunting di Kota Mojokerto mengalami</div><div class="t" style="left:213.50px;top:555.94px;font-family:'DejaVu Serif', serif;font-size:13.8px;font-weight:normal;letter-spacing:-0.113px;line-height:13.8px;color:#2E2626;word-spacing:0.800px;">penurunan berturut-turut selama 4 tahun terakhir,</div><div class="t" style="left:213.50px;top:574.18px;font-family:'DejaVu Serif', serif;font-size:13.8px;font-weight:normal;letter-spacing:0px;line-height:13.8px;color:#2E2626;word-spacing:1.741px;">yaitu 3,12% pada tahun 2022, 2,04% pada tahun</div><div class="t" style="left:213.50px;top:592.42px;font-family:'DejaVu Serif', serif;font-size:13.8px;font-weight:normal;letter-spacing:0px;line-height:13.8px;color:#2E2626;word-spacing:3.147px;">2023, 1,54% pada tahun 2024, dan 1,43% pada</div><div class="t" style="left:213.50px;top:610.66px;font-family:'DejaVu Serif', serif;font-size:13.8px;font-weight:normal;letter-spacing:0px;line-height:13.8px;color:#2E2626;">Bulan Juni Tahun 2025.</div><div class="t" style="left:213.40px;top:844.41px;font-family:'DejaVu Serif', serif;font-size:12.7px;font-weight:normal;letter-spacing:0px;line-height:12.7px;color:#2E2626;word-spacing:8.261px;">Gambar 1. Tren prevalensi balita stunting Kota</div><div class="t" style="left:213.40px;top:860.66px;font-family:'DejaVu Serif', serif;font-size:12.7px;font-weight:normal;letter-spacing:0px;line-height:12.7px;color:#2E2626;word-spacing:4.098px;">Mojokerto berdasarkan data e-PPGBM Tahun 2022-</div><div class="t" style="left:213.40px;top:876.91px;font-family:'DejaVu Serif', serif;font-size:12.7px;font-weight:normal;letter-spacing:0px;line-height:12.7px;color:#2E2626;">2025 (Bulan Juni)</div><div class="t" style="left:265.00px;top:900.28px;font-family:'DejaVu Serif', serif;font-size:13.8px;font-weight:normal;letter-spacing:0px;line-height:13.8px;color:#2E2626;word-spacing:1.746px;">Kota Mojokerto telah melakukan berbagai</div><div class="t" style="left:213.50px;top:918.52px;font-family:'DejaVu Serif', serif;font-size:13.8px;font-weight:normal;letter-spacing:0px;line-height:13.8px;color:#2E2626;word-spacing:5.875px;">upaya untuk meningkatkan kualitas data rutin</div><div class="t" style="left:213.50px;top:936.76px;font-family:'DejaVu Serif', serif;font-size:13.8px;font-weight:normal;letter-spacing:0px;line-height:13.8px;color:#2E2626;word-spacing:17.781px;">pemantauan pertumbuhan balita, yaitu :</div><div class="t" style="left:213.50px;top:955.00px;font-family:'DejaVu Serif', serif;font-size:13.8px;font-weight:normal;letter-spacing:0px;line-height:13.8px;color:#2E2626;word-spacing:4.131px;">pemenuhan alat antropometri sesuai standar di</div><div class="t" style="left:213.50px;top:973.24px;font-family:'DejaVu Serif', serif;font-size:13.8px;font-weight:normal;letter-spacing:-0.071px;line-height:13.8px;color:#2E2626;word-spacing:0.800px;">seluruh posyandu (170 posyandu), Puskesmas dan</div><div class="t" style="left:213.50px;top:991.48px;font-family:'DejaVu Serif', serif;font-size:13.8px;font-weight:normal;letter-spacing:0px;line-height:13.8px;color:#2E2626;word-spacing:2.400px;">Pustu, serta melakukan kalibrasi secara berkala,</div><div class="t" style="left:213.50px;top:1009.72px;font-family:'DejaVu Serif', serif;font-size:13.8px;font-weight:normal;letter-spacing:0px;line-height:13.8px;color:#2E2626;word-spacing:14.129px;">petugas pengukur dan pemvalidasi (Kader</div><div class="t" style="left:213.50px;top:1027.96px;font-family:'DejaVu Serif', serif;font-size:13.8px;font-weight:normal;letter-spacing:0px;line-height:13.8px;color:#2E2626;word-spacing:5.723px;">Posyandu, prameswari, serta tenaga kesehatan</div><div class="t" style="left:213.50px;top:1046.20px;font-family:'DejaVu Serif', serif;font-size:13.8px;font-weight:normal;letter-spacing:0px;line-height:13.8px;color:#2E2626;">penanggung jawab wilayah) telah terlatih terkait</div><div class="t" style="left:595.20px;top:130.48px;font-family:'DejaVu Serif', serif;font-size:13.8px;font-weight:normal;letter-spacing:0px;line-height:13.8px;color:#2E2626;word-spacing:16.251px;">cara pengukuran antropometri terstandar,</div><div class="t" style="left:595.20px;top:148.72px;font-family:'DejaVu Serif', serif;font-size:13.8px;font-weight:normal;letter-spacing:0px;line-height:13.8px;color:#2E2626;word-spacing:3.394px;">cakupan penimbangan (D/S) juga telah  100%,</div><div class="t" style="left:595.20px;top:166.96px;font-family:'DejaVu Serif', serif;font-size:13.8px;font-weight:normal;letter-spacing:0px;line-height:13.8px;color:#2E2626;word-spacing:10.459px;">pendampingan dan pengawasan pengukuran</div><div class="t" style="left:595.20px;top:185.20px;font-family:'DejaVu Serif', serif;font-size:13.8px;font-weight:normal;letter-spacing:-0.076px;line-height:13.8px;color:#2E2626;word-spacing:0.800px;">balita sesuai SOP di setiap posyandu oleh tenaga</div><div class="t" style="left:595.20px;top:203.44px;font-family:'DejaVu Serif', serif;font-size:13.8px;font-weight:normal;letter-spacing:-0.170px;line-height:13.8px;color:#2E2626;word-spacing:0.800px;">kesehatan, serta pelaksanaan monitoring evaluasi</div><div class="t" style="left:595.20px;top:221.68px;font-family:'DejaVu Serif', serif;font-size:13.8px;font-weight:normal;letter-spacing:0px;line-height:13.8px;color:#2E2626;word-spacing:1.360px;">berkala/supervisi validasi oleh tenaga kesehatan</div><div class="t" style="left:595.20px;top:239.92px;font-family:'DejaVu Serif', serif;font-size:13.8px;font-weight:normal;letter-spacing:0px;line-height:13.8px;color:#2E2626;word-spacing:3.929px;">baik dari Puskesmas maupun Dinas Kesehatan</div><div class="t" style="left:595.20px;top:258.16px;font-family:'DejaVu Serif', serif;font-size:13.8px;font-weight:normal;letter-spacing:0px;line-height:13.8px;color:#2E2626;word-spacing:1.495px;">PPKB Kota Mojokerto yang didukung oleh lintas</div><div class="t" style="left:595.20px;top:276.40px;font-family:'DejaVu Serif', serif;font-size:13.8px;font-weight:normal;letter-spacing:0px;line-height:13.8px;color:#2E2626;">sektor terkait.</div><div class="t" style="left:626.00px;top:311.28px;font-family:'DejaVu Serif', serif;font-size:13.8px;font-weight:normal;letter-spacing:0px;line-height:13.8px;color:#2E2626;word-spacing:4.049px;">Berdasarkan diagram batang di bawah ini</div><div class="t" style="left:595.40px;top:329.48px;font-family:'DejaVu Serif', serif;font-size:13.8px;font-weight:normal;letter-spacing:0px;line-height:13.8px;color:#2E2626;word-spacing:1.007px;">dapat dilihat bahwa penurunan prevalensi balita</div><div class="t" style="left:595.40px;top:347.68px;font-family:'DejaVu Serif', serif;font-size:13.8px;font-weight:normal;letter-spacing:-0.186px;line-height:13.8px;color:#2E2626;word-spacing:0.800px;">stunting terjadi pada usia 12-23 bulan, usia 24-35</div><div class="t" style="left:595.40px;top:365.88px;font-family:'DejaVu Serif', serif;font-size:13.8px;font-weight:normal;letter-spacing:0px;line-height:13.8px;color:#2E2626;word-spacing:1.188px;">bulan dan usia 48-59 bulan. Pada usia 0-5 bulan</div><div class="t" style="left:595.40px;top:384.08px;font-family:'DejaVu Serif', serif;font-size:13.8px;font-weight:normal;letter-spacing:0px;line-height:13.8px;color:#2E2626;word-spacing:12.416px;">prevalensi stunting tetap 0, serta terjadi</div><div class="t" style="left:595.40px;top:402.28px;font-family:'DejaVu Serif', serif;font-size:13.8px;font-weight:normal;letter-spacing:-0.009px;line-height:13.8px;color:#2E2626;word-spacing:0.800px;">peningkatan prevalensi balita stunting pada usia</div><div class="t" style="left:595.40px;top:420.48px;font-family:'DejaVu Serif', serif;font-size:13.8px;font-weight:normal;letter-spacing:0px;line-height:13.8px;color:#2E2626;word-spacing:3.092px;">6-11 bulan, dan 36-47 bulan. Pada tahun 2025</div><div class="t" style="left:595.40px;top:438.68px;font-family:'DejaVu Serif', serif;font-size:13.8px;font-weight:normal;letter-spacing:0px;line-height:13.8px;color:#2E2626;word-spacing:2.819px;">(Bulan Juni), prevalensi tertinggi pada kategori</div><div class="t" style="left:595.40px;top:456.88px;font-family:'DejaVu Serif', serif;font-size:13.8px;font-weight:normal;letter-spacing:0px;line-height:13.8px;color:#2E2626;word-spacing:2.594px;">usia 36-47 bulan. Kenaikan prevalensi tertinggi</div><div class="t" style="left:595.40px;top:475.08px;font-family:'DejaVu Serif', serif;font-size:13.8px;font-weight:normal;letter-spacing:-0.103px;line-height:13.8px;color:#2E2626;word-spacing:0.800px;">pada kategori usia 24-35 bulan pada tahun 2024,</div><div class="t" style="left:595.40px;top:493.28px;font-family:'DejaVu Serif', serif;font-size:13.8px;font-weight:normal;letter-spacing:0px;line-height:13.8px;color:#2E2626;word-spacing:5.393px;">dan pada usia 36-47 bulan pada tahun 2025</div><div class="t" style="left:595.40px;top:511.48px;font-family:'DejaVu Serif', serif;font-size:13.8px;font-weight:normal;letter-spacing:0px;line-height:13.8px;color:#2E2626;">Bulan Juni).</div><div class="t" style="left:624.70px;top:816.46px;font-family:'DejaVu Serif', serif;font-size:13.7px;font-weight:normal;letter-spacing:0px;line-height:13.7px;color:#2E2626;">Tahun 2024</div><div class="t" style="left:624.70px;top:834.46px;font-family:'DejaVu Serif', serif;font-size:13.7px;font-weight:normal;letter-spacing:0px;line-height:13.7px;color:#2E2626;">(dalam %)</div><div class="t" style="left:740.50px;top:816.46px;font-family:'DejaVu Serif', serif;font-size:13.7px;font-weight:normal;letter-spacing:0px;line-height:13.7px;color:#2E2626;">Tahun 2025 Bulan Juni</div><div class="t" style="left:740.50px;top:834.46px;font-family:'DejaVu Serif', serif;font-size:13.7px;font-weight:normal;letter-spacing:0px;line-height:13.7px;color:#2E2626;">(dalam %)</div><div class="t" style="left:593.90px;top:857.08px;font-family:'DejaVu Serif', serif;font-size:13.8px;font-weight:normal;letter-spacing:0px;line-height:13.8px;color:#2E2626;word-spacing:10.047px;">Gambar 2. Prevalensi stunting berdasarkan</div><div class="t" style="left:593.90px;top:875.13px;font-family:'DejaVu Serif', serif;font-size:13.8px;font-weight:normal;letter-spacing:0px;line-height:13.8px;color:#2E2626;word-spacing:3.888px;">kelompok usia balita di Kota Mojokerto Tahun</div><div class="t" style="left:593.90px;top:893.18px;font-family:'DejaVu Serif', serif;font-size:13.8px;font-weight:normal;letter-spacing:0px;line-height:13.8px;color:#2E2626;">2024–2025 (Bulan Juni)</div><div class="t" style="left:620.60px;top:933.80px;font-family:'DejaVu Serif', serif;font-size:13.3px;font-weight:normal;letter-spacing:0px;line-height:13.3px;color:#2E2626;word-spacing:4.439px;">Kelurahan di Kota Mojokerto yang memiliki</div><div class="t" style="left:591.20px;top:951.90px;font-family:'DejaVu Serif', serif;font-size:13.3px;font-weight:normal;letter-spacing:0px;line-height:13.3px;color:#2E2626;word-spacing:14.006px;">prevalensi stunting di bawah angka Kota</div><div class="t" style="left:591.20px;top:970.00px;font-family:'DejaVu Serif', serif;font-size:13.3px;font-weight:normal;letter-spacing:0px;line-height:13.3px;color:#2E2626;word-spacing:8.250px;">Mojokerto sebanyak 9 Kelurahan. Terdapat 2</div><div class="t" style="left:591.20px;top:988.10px;font-family:'DejaVu Serif', serif;font-size:13.3px;font-weight:normal;letter-spacing:-0.004px;line-height:13.3px;color:#2E2626;word-spacing:0.800px;">Kelurahan Zero Stunting (Purwotengah dan Meri).</div><div class="t" style="left:591.20px;top:1006.20px;font-family:'DejaVu Serif', serif;font-size:13.3px;font-weight:normal;letter-spacing:0px;line-height:13.3px;color:#2E2626;word-spacing:3.853px;">Adapun 5 Kelurahan dengan prevalensi stunting</div><div class="t" style="left:591.20px;top:1024.30px;font-family:'DejaVu Serif', serif;font-size:13.3px;font-weight:normal;letter-spacing:0px;line-height:13.3px;color:#2E2626;word-spacing:1.863px;">tertinggi adalah Sentanan, Gedongan, Balongsari,</div><div class="t" style="left:591.20px;top:1042.40px;font-family:'DejaVu Serif', serif;font-size:13.3px;font-weight:normal;letter-spacing:0px;line-height:13.3px;color:#2E2626;">Magersari dan Kedundung.</div><div class="t" style="left:979.60px;top:203.88px;font-family:'DejaVu Serif', serif;font-size:13.68px;font-weight:normal;letter-spacing:0px;line-height:13.68px;color:#2E2626;">Gambar 3. Prevalensi stunting berdasarkan Kelurahan di Kota Mojokerto Tahun 2025 (Bulan Juni)</div><div class="t" style="left:980.40px;top:247.04px;font-family:'DejaVu Serif', serif;font-size:15.5px;font-weight:normal;letter-spacing:0px;line-height:15.5px;color:#2E2626;">FAKTOR DETERMINAN</div><div class="t" style="left:1029.50px;top:273.03px;font-family:'DejaVu Serif', serif;font-size:13.2px;font-weight:normal;letter-spacing:0px;line-height:13.2px;color:#2E2626;word-spacing:4.899px;">Determinan stunting adalah faktor-faktor</div><div class="t" style="left:981.50px;top:290.28px;font-family:'DejaVu Serif', serif;font-size:13.2px;font-weight:normal;letter-spacing:0px;line-height:13.2px;color:#2E2626;word-spacing:4.080px;">yang berkontribusi terhadap terjadinya stunting</div><div class="t" style="left:981.50px;top:307.53px;font-family:'DejaVu Serif', serif;font-size:13.2px;font-weight:normal;letter-spacing:0px;line-height:13.2px;color:#2E2626;word-spacing:9.754px;">pada balita, dan saling terkait serta dapat</div><div class="t" style="left:981.50px;top:324.78px;font-family:'DejaVu Serif', serif;font-size:13.2px;font-weight:normal;letter-spacing:0px;line-height:13.2px;color:#2E2626;">memperkuat satu sama lain.</div><div class="t" style="left:1013.20px;top:756.06px;font-family:'DejaVu Serif', serif;font-size:13.7px;font-weight:normal;letter-spacing:0px;line-height:13.7px;color:#2E2626;">Tahun 2024</div><div class="t" style="left:1013.20px;top:774.36px;font-family:'DejaVu Serif', serif;font-size:13.7px;font-weight:normal;letter-spacing:0px;line-height:13.7px;color:#2E2626;">(dalam %)</div><div class="t" style="left:1129.20px;top:756.06px;font-family:'DejaVu Serif', serif;font-size:13.7px;font-weight:normal;letter-spacing:0px;line-height:13.7px;color:#2E2626;">Tahun 2025 Bulan Juni</div><div class="t" style="left:1129.20px;top:774.36px;font-family:'DejaVu Serif', serif;font-size:13.7px;font-weight:normal;letter-spacing:0px;line-height:13.7px;color:#2E2626;">(dalam %)</div><div class="t" style="left:980.40px;top:808.12px;font-family:'DejaVu Serif', serif;font-size:12.8px;font-weight:normal;letter-spacing:0px;line-height:12.8px;color:#2E2626;word-spacing:2.056px;">Gambar 4. Persentase Faktor Determinan Stunting</div><div class="t" style="left:980.40px;top:824.62px;font-family:'DejaVu Serif', serif;font-size:12.8px;font-weight:normal;letter-spacing:0px;line-height:12.8px;color:#2E2626;word-spacing:4.611px;">di Kota Mojokerto Tahun 2024 dan 2025 (Bulan</div><div class="t" style="left:980.40px;top:841.12px;font-family:'DejaVu Serif', serif;font-size:12.8px;font-weight:normal;letter-spacing:0px;line-height:12.8px;color:#2E2626;">Juni)</div><div class="t" style="left:1033.40px;top:867.08px;font-family:'DejaVu Serif', serif;font-size:13.2px;font-weight:normal;letter-spacing:-0.023px;line-height:13.2px;color:#2E2626;word-spacing:0.800px;">Faktor penyebab stunting tertinggi di Kota</div><div class="t" style="left:983.40px;top:884.38px;font-family:'DejaVu Serif', serif;font-size:13.2px;font-weight:normal;letter-spacing:0px;line-height:13.2px;color:#2E2626;word-spacing:6.192px;">Mojokerto Tahun 2024 dan 2025 (Bulan Juni)</div><div class="t" style="left:983.40px;top:901.68px;font-family:'DejaVu Serif', serif;font-size:13.2px;font-weight:normal;letter-spacing:0px;line-height:13.2px;color:#2E2626;word-spacing:2.693px;">berdasarkan pendataan adalah pola makan, pola</div><div class="t" style="left:983.40px;top:918.98px;font-family:'DejaVu Serif', serif;font-size:13.2px;font-weight:normal;letter-spacing:0px;line-height:13.2px;color:#2E2626;word-spacing:2.840px;">asuh, pengetahuan dan kemiskinan. Faktor yang</div><div class="t" style="left:983.40px;top:936.28px;font-family:'DejaVu Serif', serif;font-size:13.2px;font-weight:normal;letter-spacing:0px;line-height:13.2px;color:#2E2626;word-spacing:4.636px;">mengalami peningkatan persentase pada Tahun</div><div class="t" style="left:983.40px;top:953.58px;font-family:'DejaVu Serif', serif;font-size:13.2px;font-weight:normal;letter-spacing:0px;line-height:13.2px;color:#2E2626;word-spacing:2.507px;">2025 Bulan Juni adalah pola asuh, pengetahuan,</div><div class="t" style="left:983.40px;top:970.88px;font-family:'DejaVu Serif', serif;font-size:13.2px;font-weight:normal;letter-spacing:0px;line-height:13.2px;color:#2E2626;word-spacing:4.312px;">pola makan dan kejadian BBLR/prematur/IUGR,</div><div class="t" style="left:983.40px;top:988.18px;font-family:'DejaVu Serif', serif;font-size:13.2px;font-weight:normal;letter-spacing:0px;line-height:13.2px;color:#2E2626;word-spacing:7.862px;">sedangkan faktor yang mengalami penurunan</div><div class="t" style="left:983.40px;top:1005.48px;font-family:'DejaVu Serif', serif;font-size:13.2px;font-weight:normal;letter-spacing:0px;line-height:13.2px;color:#2E2626;word-spacing:3.986px;">persentase pada Tahun 2025 Bulan Juni adalah</div><div class="t" style="left:983.40px;top:1022.78px;font-family:'DejaVu Serif', serif;font-size:13.2px;font-weight:normal;letter-spacing:0px;line-height:13.2px;color:#2E2626;word-spacing:10.261px;">kemiskinan, riwayat penyakit penyerta serta</div><div class="t" style="left:983.40px;top:1040.08px;font-family:'DejaVu Serif', serif;font-size:13.2px;font-weight:normal;letter-spacing:0px;line-height:13.2px;color:#2E2626;">kelainan bawaan.</div><div class="t" style="left:1356.10px;top:566.24px;font-family:'DejaVu Serif', serif;font-size:12.9px;font-weight:normal;letter-spacing:-0.164px;line-height:12.9px;color:#2E2626;word-spacing:0.800px;">Gambar 5. Persentase Kombinasi Penyebab Stunting</div><div class="t" style="left:1356.10px;top:582.14px;font-family:'DejaVu Serif', serif;font-size:12.9px;font-weight:normal;letter-spacing:0px;line-height:12.9px;color:#2E2626;">di Kota Mojokerto Tahun 2025 (Bulan Juni)</div><div class="t" style="left:1419.40px;top:610.97px;font-family:'DejaVu Serif', serif;font-size:13.1px;font-weight:normal;letter-spacing:0px;line-height:13.1px;color:#2E2626;word-spacing:6.754px;">Kombinasi penyebab stunting tertinggi</div><div class="t" style="left:1354.40px;top:627.92px;font-family:'DejaVu Serif', serif;font-size:13.1px;font-weight:normal;letter-spacing:0px;line-height:13.1px;color:#2E2626;word-spacing:4.287px;">adalah pola makan + pola asuh + pengetahuan</div><div class="t" style="left:1354.40px;top:644.87px;font-family:'DejaVu Serif', serif;font-size:13.1px;font-weight:normal;letter-spacing:0px;line-height:13.1px;color:#2E2626;">(52%).</div><div class="t" style="left:1350.10px;top:685.39px;font-family:'DejaVu Serif', serif;font-size:15.2px;font-weight:normal;letter-spacing:0px;line-height:15.2px;color:#2E2626;">KESIMPULAN</div><div class="t" style="left:1369.60px;top:716.11px;font-family:'DejaVu Serif', serif;font-size:13.05px;font-weight:normal;letter-spacing:0px;line-height:13.05px;color:#2E2626;word-spacing:5.870px;">Berdasarkan data ePPGBM Bulan Juni Tahun</div><div class="t" style="left:1369.60px;top:733.35px;font-family:'DejaVu Serif', serif;font-size:13.05px;font-weight:normal;letter-spacing:0px;line-height:13.05px;color:#2E2626;word-spacing:9.654px;">2025 terjadi penurunan prevalensi stunting</div><div class="t" style="left:1369.60px;top:750.59px;font-family:'DejaVu Serif', serif;font-size:13.05px;font-weight:normal;letter-spacing:0px;line-height:13.05px;color:#2E2626;">balita menjadi 1,43%.</div><div class="t" style="left:1369.60px;top:767.83px;font-family:'DejaVu Serif', serif;font-size:13.05px;font-weight:normal;letter-spacing:0px;line-height:13.05px;color:#2E2626;word-spacing:21.283px;">Semua sasaran balita telah dipantau</div><div class="t" style="left:1369.60px;top:785.07px;font-family:'DejaVu Serif', serif;font-size:13.05px;font-weight:normal;letter-spacing:0px;line-height:13.05px;color:#2E2626;word-spacing:4.220px;">pertumbuhannya di posyandu pada Bulan Juni</div><div class="t" style="left:1369.60px;top:802.31px;font-family:'DejaVu Serif', serif;font-size:13.05px;font-weight:normal;letter-spacing:0px;line-height:13.05px;color:#2E2626;">Tahun 2025.</div><div class="t" style="left:1369.60px;top:819.55px;font-family:'DejaVu Serif', serif;font-size:13.05px;font-weight:normal;letter-spacing:0px;line-height:13.05px;color:#2E2626;word-spacing:8.939px;">Kenaikan prevalensi stunting tertinggi pada</div><div class="t" style="left:1369.60px;top:836.79px;font-family:'DejaVu Serif', serif;font-size:13.05px;font-weight:normal;letter-spacing:0px;line-height:13.05px;color:#2E2626;word-spacing:6.387px;">kategori  usia 36-47 bulan pada Bulan Juni</div><div class="t" style="left:1369.60px;top:854.03px;font-family:'DejaVu Serif', serif;font-size:13.05px;font-weight:normal;letter-spacing:0px;line-height:13.05px;color:#2E2626;word-spacing:2.170px;">tahun 2025, dengan kasus terbanyak juga pada</div><div class="t" style="left:1369.60px;top:871.27px;font-family:'DejaVu Serif', serif;font-size:13.05px;font-weight:normal;letter-spacing:0px;line-height:13.05px;color:#2E2626;">kelompok usia yang sama, yaitu 36-47 bulan.</div><div class="t" style="left:1369.60px;top:888.51px;font-family:'DejaVu Serif', serif;font-size:13.05px;font-weight:normal;letter-spacing:0px;line-height:13.05px;color:#2E2626;word-spacing:3.505px;">Kelurahan dengan prevalensi terbanyak adalah</div><div class="t" style="left:1369.60px;top:905.75px;font-family:'DejaVu Serif', serif;font-size:13.05px;font-weight:normal;letter-spacing:0px;line-height:13.05px;color:#2E2626;word-spacing:1.177px;">Sentanan, Gedongan, Balongsari, Magersari dan</div><div class="t" style="left:1369.60px;top:922.99px;font-family:'DejaVu Serif', serif;font-size:13.05px;font-weight:normal;letter-spacing:0px;line-height:13.05px;color:#2E2626;word-spacing:16.111px;">Kedundung. Terdapat 2 Kelurahan Zero</div><div class="t" style="left:1369.60px;top:940.23px;font-family:'DejaVu Serif', serif;font-size:13.05px;font-weight:normal;letter-spacing:0px;line-height:13.05px;color:#2E2626;">Stunting yaitu Purwotengah dan Meri.</div><div class="t" style="left:1369.60px;top:957.47px;font-family:'DejaVu Serif', serif;font-size:13.05px;font-weight:normal;letter-spacing:0px;line-height:13.05px;color:#2E2626;word-spacing:8.801px;">Faktor penyebab stunting tertinggi di Kota</div><div class="t" style="left:1369.60px;top:974.71px;font-family:'DejaVu Serif', serif;font-size:13.05px;font-weight:normal;letter-spacing:0px;line-height:13.05px;color:#2E2626;word-spacing:4.002px;">Mojokerto Tahun 2025 berdasarkan pendataan</div><div class="t" style="left:1369.60px;top:991.95px;font-family:'DejaVu Serif', serif;font-size:13.05px;font-weight:normal;letter-spacing:0px;line-height:13.05px;color:#2E2626;word-spacing:5.300px;">di Bulan Juni adalah pola makan, pola asuh,</div><div class="t" style="left:1369.60px;top:1009.19px;font-family:'DejaVu Serif', serif;font-size:13.05px;font-weight:normal;letter-spacing:0px;line-height:13.05px;color:#2E2626;">pengetahuan dan kemiskinan.</div><div class="t" style="left:1369.60px;top:1026.43px;font-family:'DejaVu Serif', serif;font-size:13.05px;font-weight:normal;letter-spacing:0px;line-height:13.05px;color:#2E2626;word-spacing:5.170px;">Kombinasi penyebab stunting tertinggi adalah</div><div class="t" style="left:1369.60px;top:1043.67px;font-family:'DejaVu Serif', serif;font-size:13.05px;font-weight:normal;letter-spacing:0px;line-height:13.05px;color:#2E2626;">pola makan + pola asuh + pengetahuan  (52%).</div>
</div>
</body></html>
